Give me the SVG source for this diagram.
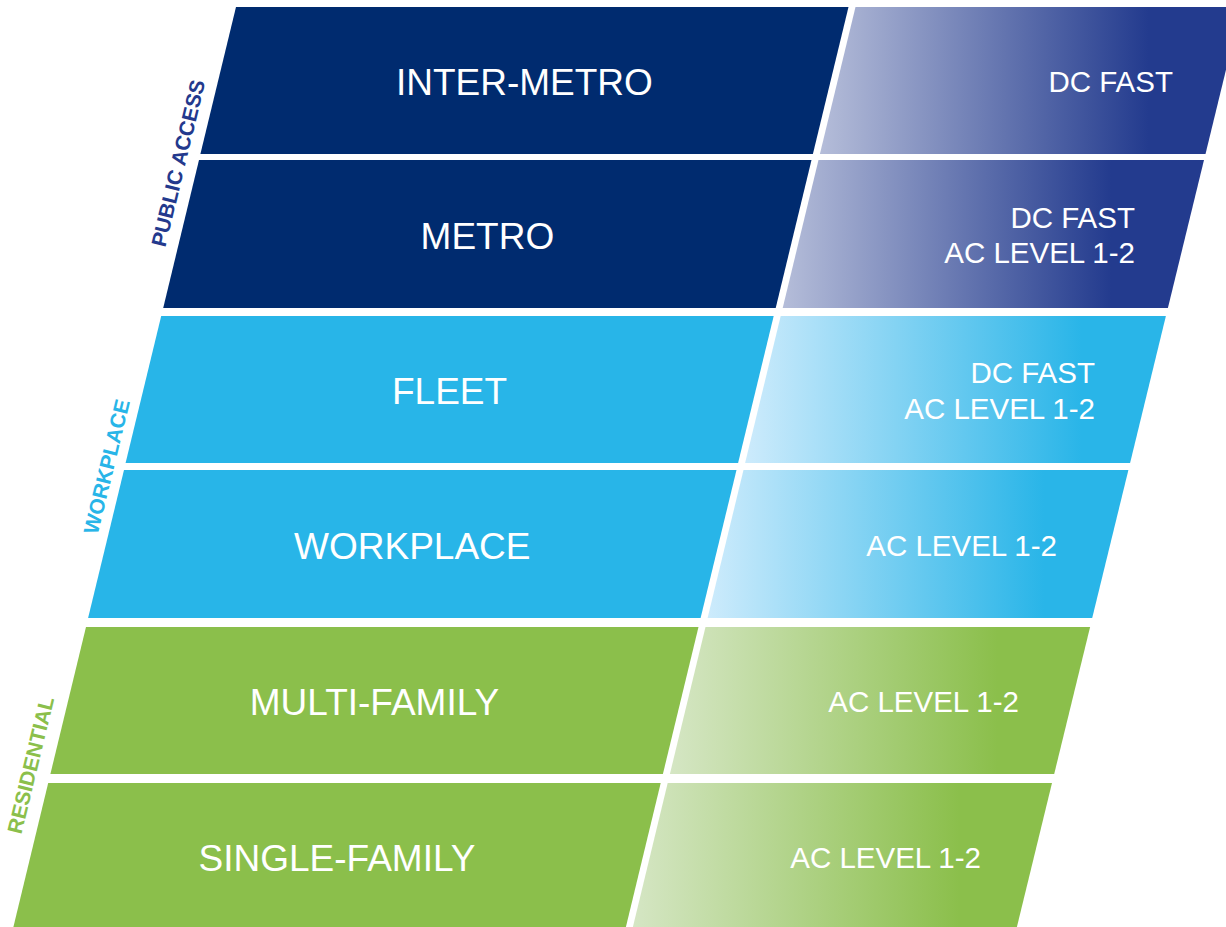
<svg xmlns="http://www.w3.org/2000/svg" width="1226" height="927" viewBox="0 0 1226 927">
  <defs>
    <linearGradient id="gradNavy" x1="0" y1="0" x2="1" y2="0">
      <stop offset="0" stop-color="#B5BDD9"/>
      <stop offset="0.78" stop-color="#233B8E"/>
      <stop offset="1" stop-color="#233B8E"/>
    </linearGradient>
    <linearGradient id="gradBlue" x1="0" y1="0" x2="1" y2="0">
      <stop offset="0" stop-color="#CDEBFC"/>
      <stop offset="0.8" stop-color="#29B5E8"/>
      <stop offset="1" stop-color="#29B5E8"/>
    </linearGradient>
    <linearGradient id="gradGreen" x1="0" y1="0" x2="1" y2="0">
      <stop offset="0" stop-color="#D5E6C4"/>
      <stop offset="0.78" stop-color="#8BBF4B"/>
      <stop offset="1" stop-color="#8BBF4B"/>
    </linearGradient>
    <style>
      .navy { fill: #002B6F; }
      .blue { fill: #28B5E8; }
      .green { fill: #8BBF4B; }
      .g-navy { fill: url(#gradNavy); }
      .g-blue { fill: url(#gradBlue); }
      .g-green { fill: url(#gradGreen); }
      .seg { font-family: "Liberation Sans", Arial, sans-serif; font-size: 37px; fill: #FFFFFF; text-anchor: middle; }
      .chg { font-family: "Liberation Sans", Arial, sans-serif; font-size: 29.5px; fill: #FFFFFF; text-anchor: end; }
      .side { font-family: "Liberation Sans", Arial, sans-serif; font-size: 21px; font-weight: bold; text-anchor: middle; dominant-baseline: central; }
    </style>
  </defs>

  <rect width="1226" height="927" fill="#FFFFFF"/>

  <!-- Group labels along the slanted left edge -->
  <g id="group-labels">
    <text class="side" fill="#23398D" transform="translate(178,163) rotate(-76.4)">PUBLIC ACCESS</text>
    <text class="side" fill="#28B5E8" transform="translate(106.5,466.5) rotate(-76.4)">WORKPLACE</text>
    <text class="side" fill="#8BBF4B" transform="translate(30.5,765) rotate(-76.4)">RESIDENTIAL</text>
  </g>

  <!-- Row 1 -->
  <g id="inter-metro">
    <polygon class="navy" points="236,7 848.5,7 812.9,154 200.4,154"/>
    <text class="seg" x="524.4" y="95">INTER-METRO</text>
  </g>
  <g id="inter-metro-charging">
    <polygon class="g-navy" points="855.5,7 1241.3,7 1205.5,154 819.9,154"/>
    <text class="chg" x="1173" y="92">DC FAST</text>
  </g>

  <!-- Row 2 -->
  <g id="metro">
    <polygon class="navy" points="199,160 811.5,160 775.7,308 163.2,308"/>
    <text class="seg" x="487.4" y="248.5">METRO</text>
  </g>
  <g id="metro-charging">
    <polygon class="g-navy" points="818.5,160 1204,160 1167.9,308 782.7,308"/>
    <text class="chg" x="1135" y="228">DC FAST</text>
    <text class="chg" x="1135" y="263">AC LEVEL 1-2</text>
  </g>

  <!-- Row 3 -->
  <g id="fleet">
    <polygon class="blue" points="161.2,316 773.7,316 738.1,463 125.6,463"/>
    <text class="seg" x="449.6" y="403.5">FLEET</text>
  </g>
  <g id="fleet-charging">
    <polygon class="g-blue" points="780.7,316 1165.9,316 1130.1,463 745.1,463"/>
    <text class="chg" x="1095" y="383">DC FAST</text>
    <text class="chg" x="1095" y="419">AC LEVEL 1-2</text>
  </g>

  <!-- Row 4 -->
  <g id="workplace">
    <polygon class="blue" points="124,470 736.5,470 700.6,618 88.1,618"/>
    <text class="seg" x="412.3" y="558.5">WORKPLACE</text>
  </g>
  <g id="workplace-charging">
    <polygon class="g-blue" points="743.5,470 1128.4,470 1092.2,618 707.6,618"/>
    <text class="chg" x="1057" y="556">AC LEVEL 1-2</text>
  </g>

  <!-- Row 5 -->
  <g id="multi-family">
    <polygon class="green" points="86,627 698.5,627 662.9,774 50.4,774"/>
    <text class="seg" x="374.5" y="715">MULTI-FAMILY</text>
  </g>
  <g id="multi-family-charging">
    <polygon class="g-green" points="705.5,627 1090.1,627 1054.2,774 669.9,774"/>
    <text class="chg" x="1019" y="712">AC LEVEL 1-2</text>
  </g>

  <!-- Row 6 -->
  <g id="single-family">
    <polygon class="green" points="48.2,783 660.7,783 625.9,927 13.4,927"/>
    <text class="seg" x="337" y="871">SINGLE-FAMILY</text>
  </g>
  <g id="single-family-charging">
    <polygon class="g-green" points="667.7,783 1052,783 1016.9,927 632.9,927"/>
    <text class="chg" x="981" y="868">AC LEVEL 1-2</text>
  </g>

  <!-- No connectors in this chart -->
  <g id="connectors"/>
</svg>
